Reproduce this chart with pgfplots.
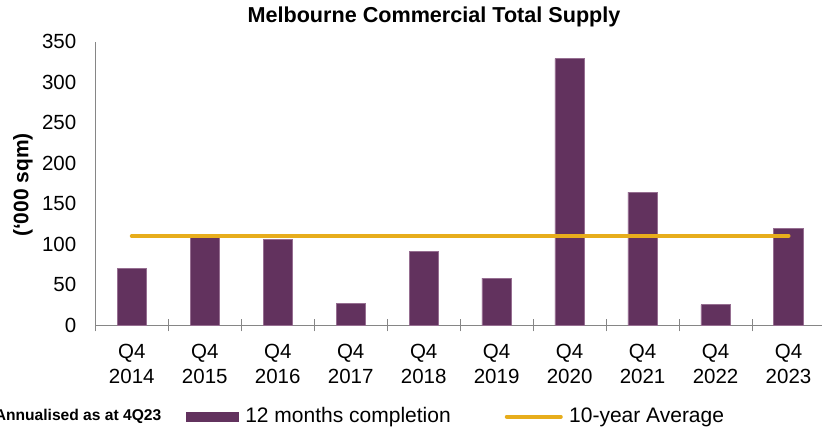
\documentclass[border=0pt]{standalone}
\usepackage{fontspec}
\setmainfont{Liberation Sans}
\usepackage{pgfplots}
\pgfplotsset{compat=1.18}
\definecolor{barpurple}{RGB}{98,50,94}
\definecolor{baredge}{RGB}{150,110,145}
\definecolor{avgyellow}{RGB}{231,173,28}
\definecolor{axisgray}{RGB}{134,134,134}
\begin{document}
\begin{tikzpicture}
\useasboundingbox (0,0) rectangle (411pt,214pt);
\clip (0,0) rectangle (411pt,214pt);
\begin{axis}[
  at={(47.65pt,51.5pt)}, anchor=south west,
  scale only axis, width=364.85pt, height=141.67pt,
  xmin=-0.5, xmax=9.5, ymin=0, ymax=350,
  axis x line*=bottom, axis y line*=left,
  axis line style={draw=axisgray, line width=0.5pt},
  xtick={0,1,2,3,4,5,6,7,8,9},
  xticklabels={{Q4\\2014},{Q4\\2015},{Q4\\2016},{Q4\\2017},{Q4\\2018},{Q4\\2019},{Q4\\2020},{Q4\\2021},{Q4\\2022},{Q4\\2023}},
  minor xtick={-0.5,0.5,1.5,2.5,3.5,4.5,5.5,6.5,7.5,8.5,9.5},
  ytick={0,50,100,150,200,250,300,350},
  major tick length=0pt,
  minor tick length=6.3pt,
  tick align=center,
  tick style={draw=axisgray, line width=0.5pt},
  xticklabel style={align=center, anchor=north, inner sep=0pt, yshift=-9.25pt, font=\fontsize{10.25pt}{12.75pt}\selectfont},
  yticklabel style={anchor=east, inner sep=0pt, xshift=-9.3pt, font=\fontsize{10.25pt}{12pt}\selectfont},
  /pgf/number format/assume math mode=true,
  legend columns=2,
  legend style={at={(0.1239,-0.3236)}, anchor=west, draw=none, fill=none, inner sep=0pt,
    nodes={inner sep=0pt}, column sep=3.2pt,
    /tikz/every even column/.append style={column sep=27pt},
    font=\fontsize{10.5pt}{12pt}\selectfont},
  legend cell align=left,
]
\addplot[ybar, bar width=14.65pt, fill=barpurple, draw=baredge, line width=0.4pt,
  legend image code/.code={\fill[barpurple] (0pt,-2.35pt) rectangle (26pt,2.35pt);}]
  coordinates {(0,70) (1,108) (2,106) (3,27) (4,91) (5,58) (6,329) (7,164) (8,25) (9,119)};
\addplot[avgyellow, line width=2pt, line cap=round, mark=none,
  legend image code/.code={\draw[avgyellow, line width=2pt] (0pt,0pt) -- (27pt,0pt);}]
  coordinates {(0,110) (1,110) (2,110) (3,110) (4,110) (5,110) (6,110) (7,110) (8,110) (9,110)};
\legend{12 months completion, 10-year Average}
\end{axis}
\node[anchor=base east, inner sep=0pt, font=\bfseries\fontsize{7.8pt}{9pt}\selectfont] at (80.85pt,4pt) {Annualised as at 4Q23};
\node[anchor=base, inner sep=0pt, font=\bfseries\fontsize{10.8pt}{13pt}\selectfont] at (217pt,202.5pt) {Melbourne Commercial Total Supply};
\node[rotate=90, inner sep=0pt, font=\bfseries\fontsize{10.5pt}{12pt}\selectfont] at (11.5pt,121.5pt) {(‘000 sqm)};
\end{tikzpicture}
\end{document}
